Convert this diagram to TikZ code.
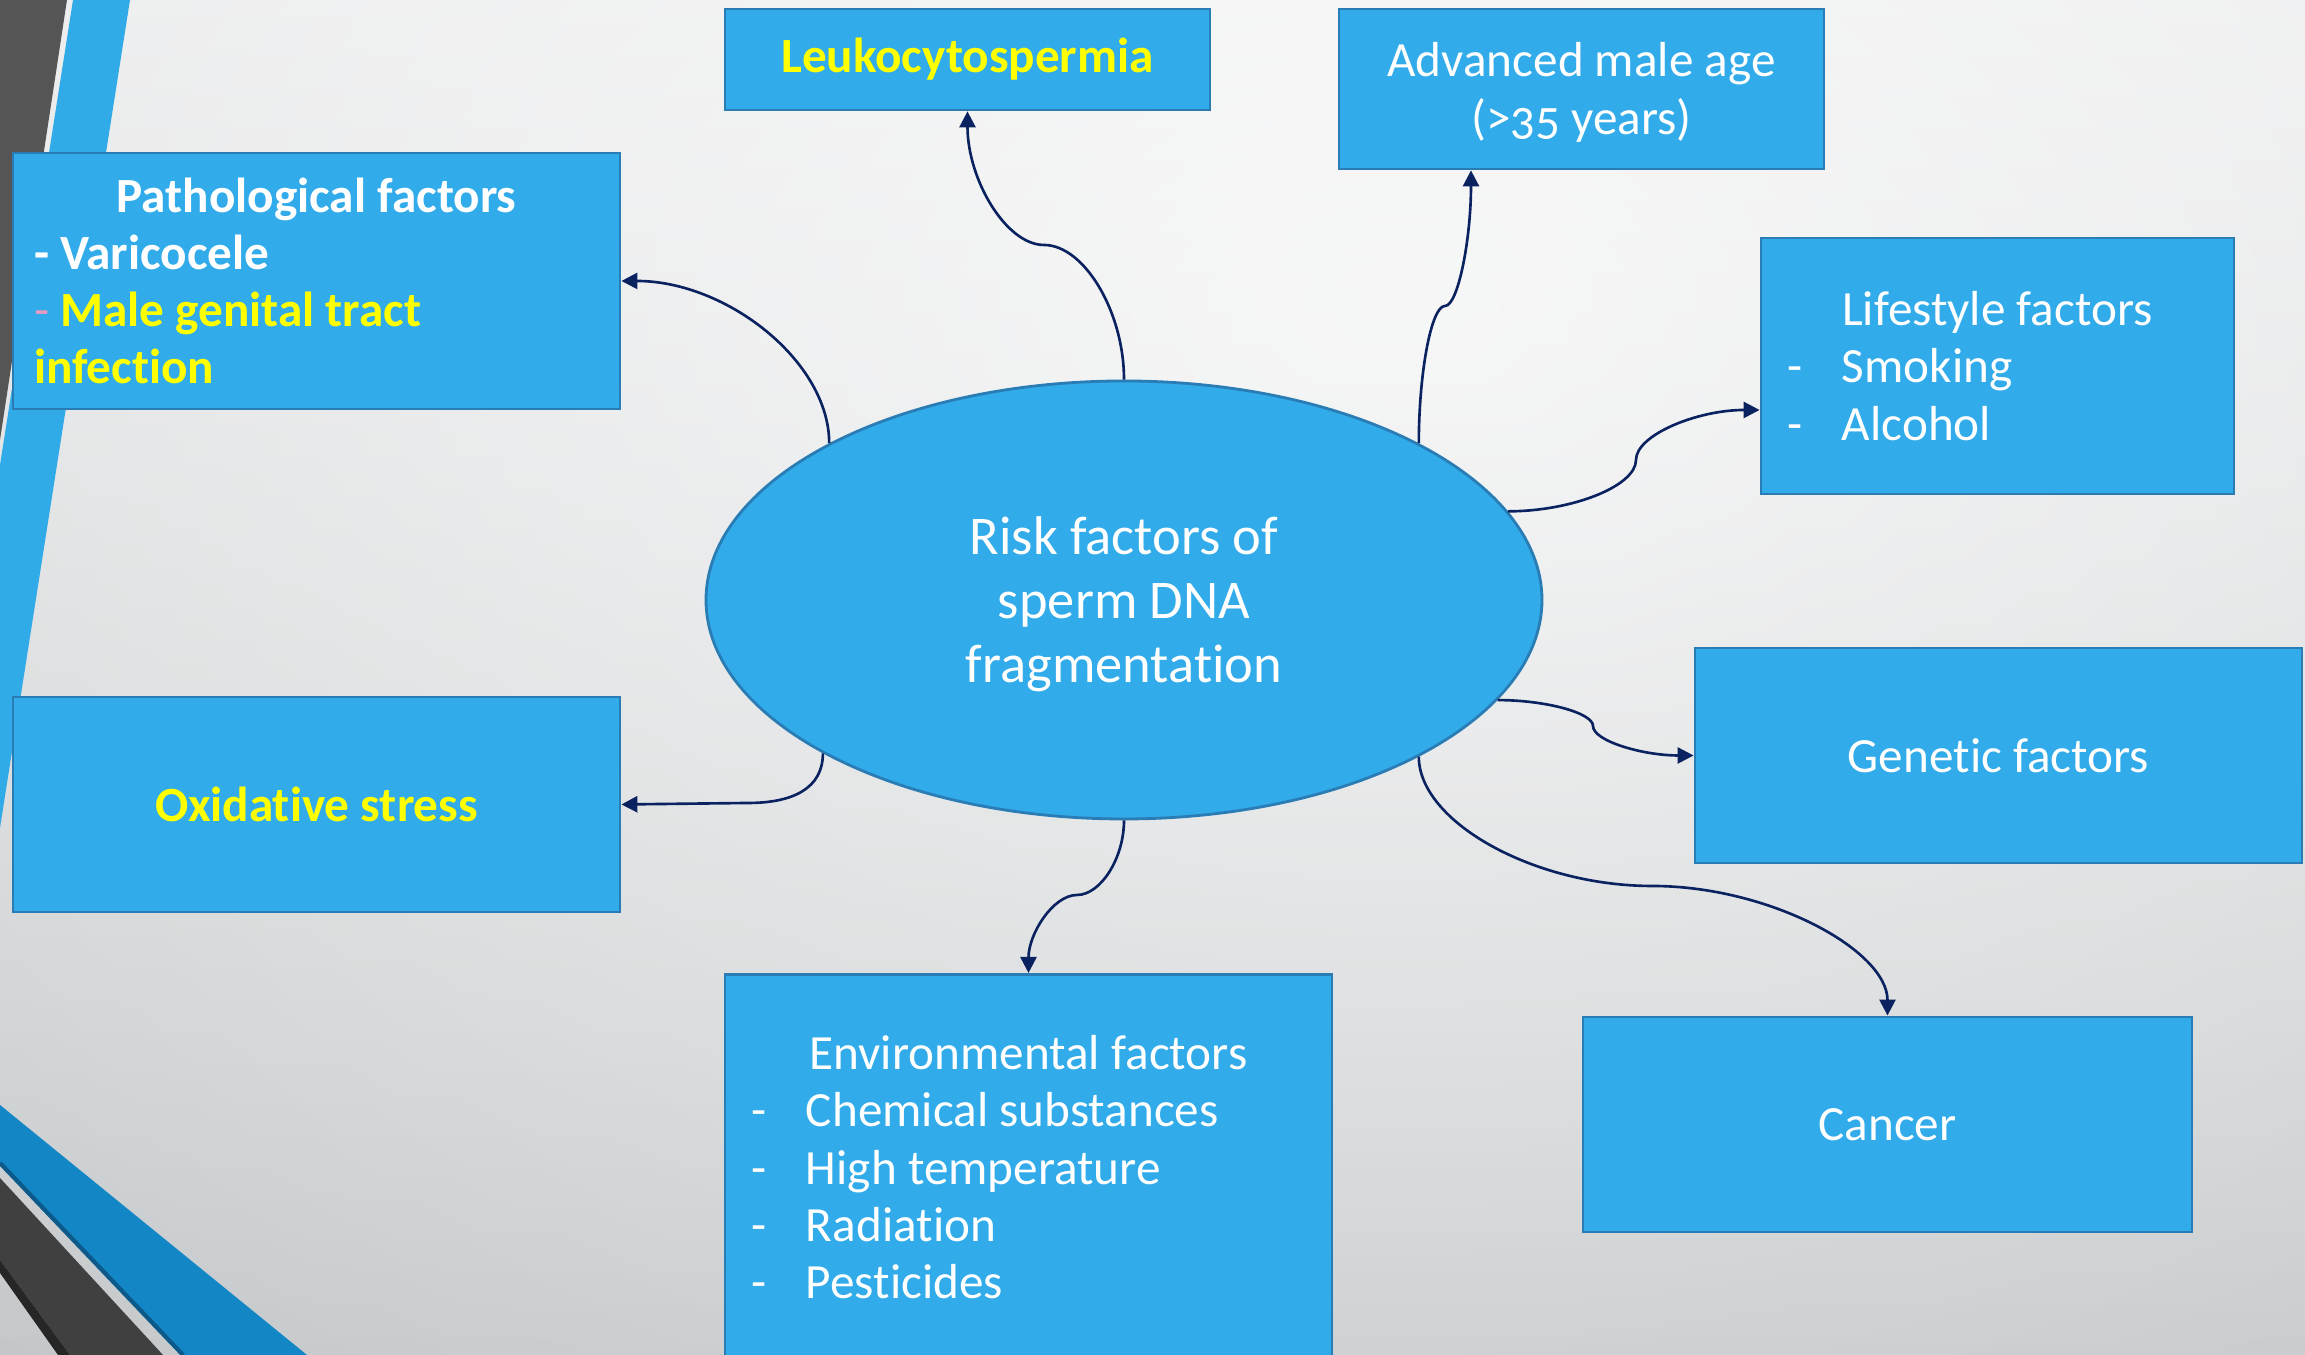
\documentclass[tikz,border=0pt]{standalone}
\usepackage{fontspec}
\setmainfont{Carlito}[Numbers=OldStyle, Ligatures=NoCommon]
\usetikzlibrary{positioning,arrows.meta,shapes.geometric,fadings}
\definecolor{boxfill}{HTML}{31ABE9}
\definecolor{boxline}{HTML}{2A7DB4}
\definecolor{linkblue}{HTML}{0B2260}
\definecolor{hiyellow}{HTML}{FFFF00}
\definecolor{dashpink}{HTML}{E89CC4}
\definecolor{bgtop}{HTML}{E6E7E8}
\definecolor{bgbottom}{HTML}{BEC2C4}
\definecolor{stripdark}{HTML}{555555}
\definecolor{stripblue}{HTML}{31AAE8}
\definecolor{cornerblue}{HTML}{1387C5}
\definecolor{cornerdeep}{HTML}{0B5A8A}
\definecolor{cornerdark}{HTML}{404040}

\tikzfading[name=glow, inner color=transparent!0, outer color=transparent!100]

% dash in front of a list entry
\newcommand{\dashitem}{\makebox[0.55cm][l]{-}}
% lower a block of lines a little, keeping its size
\newcommand{\lowered}[2]{\raisebox{-#1}[\height][\depth]{\begin{tabular}{@{}c@{}}#2\end{tabular}}}

\tikzset {
  % rectangular factor boxes
  factor/.style = {draw=boxline, fill=boxfill, line width=0.8pt, text=white,
    font=\fontsize{14}{16.3}\selectfont},
  % the central ellipse
  hub/.style = {factor, ellipse, inner sep=0pt, minimum width=8.36cm,
    minimum height=4.38cm, font=\fontsize{15.5}{18.2}\selectfont},
  % curved connectors out of the ellipse
  link/.style = {draw=linkblue, line width=0.75pt,
    -{Triangle[length=1.6mm,width=1.6mm]}},
  wide/.style = {minimum width=6.07cm, minimum height=2.15cm},
}

\begin{document}
\begin{tikzpicture}
  \useasboundingbox (0,0) rectangle (23.05,13.55);
  % backdrop
  \shade[top color=bgtop, bottom color=bgbottom] (0,0) rectangle (23.05,13.55);
  \fill[white, path fading=glow, opacity=0.75] (14,10.5) ellipse (24 and 16);
  % corner stripes
  \fill[stripdark] (0,13.55) -- (0.67,13.55) -- (0,9.15) -- cycle;
  \fill[stripblue] (0.73,13.55) -- (1.30,13.55) -- (0,5.27) -- (0,8.90) -- cycle;
  \fill[cornerblue] (0,2.50) -- (3.07,0) -- (1.83,0) -- (0,1.92) -- cycle;
  \draw[cornerdeep, line width=1.2pt] (0,1.92) -- (1.83,0);
  \fill[cornerdark] (0,1.77) -- (1.63,0) -- (0.70,0) -- (0,0.95) -- cycle;
  \fill[black!85] (0,0.95) -- (0.70,0) -- (0.58,0) -- (0,0.82) -- cycle;

  \node[hub] (hub) at (11.24,7.55) {\lowered{0.6mm}{Risk factors of\\sperm DNA\\fragmentation}};

  \node[factor, minimum width=6.07cm, minimum height=2.56cm, text width=5.65cm, align=flush left] (patho) at (3.165,10.74)
    {\makebox[\linewidth]{\bfseries Pathological factors}\\
     \textbf{- Varicocele}\\
     {\color{dashpink}-} {\bfseries\color{hiyellow}Male genital tract}\\
     {\bfseries\color{hiyellow}infection}};
  \node[factor, minimum width=4.85cm, minimum height=1.01cm] (leuko) at (9.675,12.955)
    {\bfseries\color{hiyellow}Leukocytospermia};
  \node[factor, minimum width=4.85cm, minimum height=1.6cm] (age) at (15.815,12.66)
    {\lowered{0.5mm}{Advanced male age\\(>35 years)}};
  \node[factor, minimum width=4.73cm, minimum height=2.56cm, text width=4.21cm, align=flush left] (life) at (19.975,9.89)
    {\makebox[\linewidth]{Lifestyle factors}\\ \dashitem Smoking\\ \dashitem Alcohol};
  \node[factor, wide] (gene) at (19.985,5.995) {Genetic factors};
  \node[factor, wide, minimum width=6.09cm] (cancer) at (18.875,2.305) {Cancer};
  \node[factor, anchor=north, minimum width=6.07cm, minimum height=3.86cm, text width=5.55cm, align=flush left] (env) at (10.285,3.82)
    {\makebox[\linewidth]{Environmental factors}\\ \dashitem Chemical substances\\
     \dashitem High temperature\\ \dashitem Radiation\\ \dashitem Pesticides};
  \node[factor, wide] (oxi) at (3.165,5.505) {\bfseries\color{hiyellow}Oxidative stress};

  \coordinate (m1) at (10.44,11.10);
  \coordinate (m2) at (14.45,10.49);
  \coordinate (m3) at (16.36,8.95);
  \coordinate (m4) at (15.93,6.29);
  \coordinate (m5) at (16.52,4.69);
  \coordinate (m6) at (10.77,4.60);
  \coordinate (m7) at (7.48,5.52);

  \draw[link] (hub.north) .. controls +(0,0.68) and +(0.40,0) .. (m1)
    .. controls +(-0.38,0) and +(0,-0.68) .. (leuko.south);
  \draw[link] (hub.28) .. controls +(0,0.69) and +(-0.14,0) .. (m2)
    .. controls +(0.13,0) and +(0,-0.69) .. ([xshift=-11.05mm]age.south);
  \draw[link] (hub.13) .. controls +(0.645,0) and +(0,-0.26) .. (m3)
    .. controls +(0,0.25) and +(-0.625,0) .. ([yshift=-4.4mm]life.west);
  \draw[link] (hub.-15) .. controls +(0.485,0) and +(0,0.13) .. (m4)
    .. controls +(0,-0.15) and +(-0.51,0) .. (gene.west);
  \draw[link] (hub.-28) .. controls +(0,-0.65) and +(-1.18,0) .. (m5)
    .. controls +(1.18,0) and +(0,0.65) .. (cancer.north);
  \draw[link] (hub.south) .. controls +(0,-0.38) and +(0.235,0) .. (m6)
    .. controls +(-0.24,0) and +(0,0.39) .. (env.north);
  \draw[link] (hub.207) .. controls +(0,-0.35) and +(0.45,0) .. (m7) -- (oxi.east);
  \draw[link] (hub.152) .. controls +(0,0.815) and +(1.055,0) .. (patho.east);
\end{tikzpicture}
\end{document}
